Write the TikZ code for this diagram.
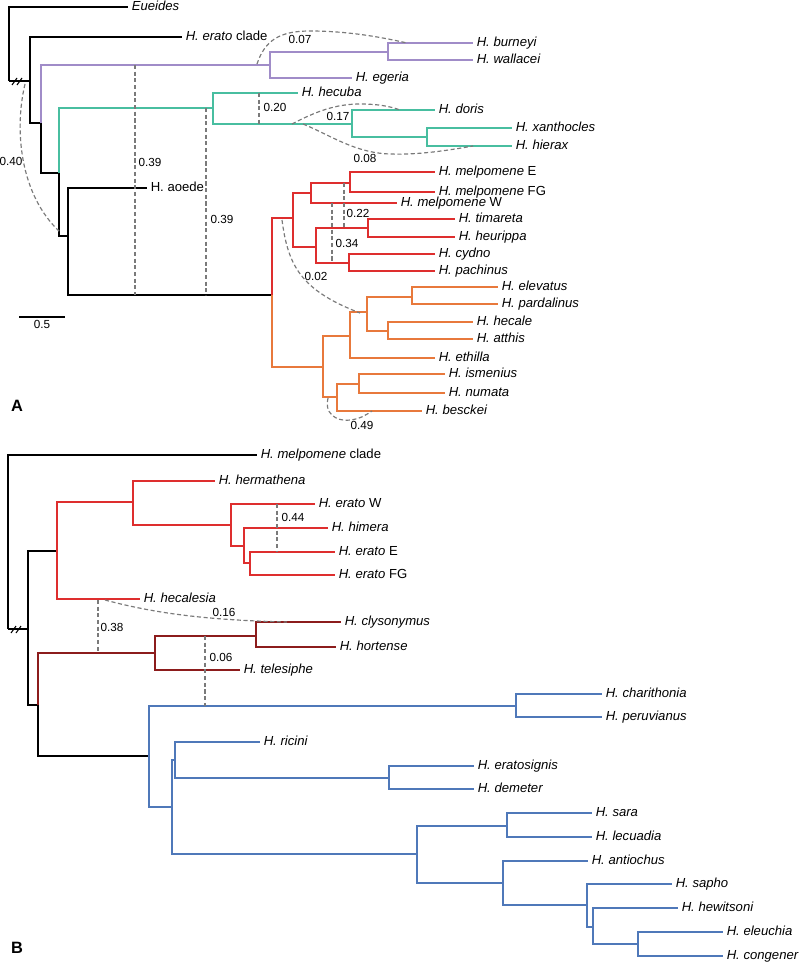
\documentclass[tikz,border=0pt]{standalone}
\usepackage{fontspec}
\setmainfont{Liberation Sans}
\usepackage{tikz}
\usetikzlibrary{positioning}
\usepackage{xcolor}
\definecolor{cladeP}{HTML}{A08CC8}
\definecolor{cladeT}{HTML}{48BEA0}
\definecolor{cladeR}{HTML}{DE2E2E}
\definecolor{cladeO}{HTML}{E8793C}
\definecolor{cladeD}{HTML}{8C1C1C}
\definecolor{cladeB}{HTML}{4F78B9}
\definecolor{flowgray}{HTML}{7A7A7A}

\begin{document}
\begin{tikzpicture}[x=0.03cm, y=-0.03cm,
  branch/.style={line width=1.9pt},
  leaf/.style={anchor=west, inner xsep=3pt, inner ysep=0pt, text height=0.6em, text depth=0pt,
    font=\fontsize{11.2}{13}\selectfont\itshape},
  flow/.style={draw=flowgray, line width=1pt, dash pattern=on 3.5pt off 2.2pt},
  val/.style={inner sep=0pt, font=\fontsize{10}{12}\selectfont},
  brk/.style={line width=0.9pt}]
\useasboundingbox (0,0) rectangle (800,964);

% ---------------- panel A: internal nodes
\coordinate (rootA) at (9,81);
\coordinate (nA1) at (30,81);
\coordinate (nA2) at (41,123);
\coordinate (nA3) at (59,173);
\coordinate (nA4) at (68,236);
\coordinate (nA5) at (272,295);
\coordinate (pA) at (270,65);
\coordinate (pA1) at (388,52);
\coordinate (tA) at (213,108);
\coordinate (tA1) at (352,124);
\coordinate (tA2) at (427,137);
\coordinate (rA) at (293,218);
\coordinate (rA1) at (311,193);
\coordinate (rA2) at (350,183);
\coordinate (rA3) at (316,247);
\coordinate (rA4) at (368,228);
\coordinate (rA5) at (349,263);
\coordinate (oA) at (323,367);
\coordinate (oA1) at (350,336);
\coordinate (oA2) at (367,312);
\coordinate (oA3) at (412,297);
\coordinate (oA4) at (337,397);
\coordinate (oA5) at (388,331);
\coordinate (oA6) at (359,384);

% panel A: tips
\node[leaf] (eueides) at (128,7) {Eueides};
\node[leaf] (eratoclade) at (182,37) {H. erato \upshape clade};
\node[leaf] (burneyi) at (473,43) {H. burneyi};
\node[leaf] (wallacei) at (473,60) {H. wallacei};
\node[leaf] (egeria) at (352,78) {H. egeria};
\node[leaf] (hecuba) at (298,93) {H. hecuba};
\node[leaf] (doris) at (435,110) {H. doris};
\node[leaf] (xanthocles) at (512,128) {H. xanthocles};
\node[leaf] (hierax) at (512,146) {H. hierax};
\node[leaf, font=\fontsize{11.2}{13}\selectfont] (aoede) at (147,188) {H. aoede};
\node[leaf] (melpE) at (435,172) {H. melpomene \upshape E};
\node[leaf] (melpFG) at (435,192) {H. melpomene \upshape FG};
\node[leaf] (melpW) at (397,203) {H. melpomene \upshape W};
\node[leaf] (timareta) at (455,219) {H. timareta};
\node[leaf] (heurippa) at (455,237) {H. heurippa};
\node[leaf] (cydno) at (435,254) {H. cydno};
\node[leaf] (pachinus) at (435,271) {H. pachinus};
\node[leaf] (elevatus) at (498,287) {H. elevatus};
\node[leaf] (pardalinus) at (498,304) {H. pardalinus};
\node[leaf] (hecale) at (473,322) {H. hecale};
\node[leaf] (atthis) at (473,339) {H. atthis};
\node[leaf] (ethilla) at (435,358) {H. ethilla};
\node[leaf] (ismenius) at (445,374) {H. ismenius};
\node[leaf] (numata) at (445,393) {H. numata};
\node[leaf] (besckei) at (422,411) {H. besckei};

% panel A: branches
\foreach \a/\b in {rootA/eueides, rootA/nA1, nA1/eratoclade, nA1/nA2, nA2/nA3, nA3/nA4, nA4/aoede, nA4/nA5}
  \draw[branch] (\a) |- (\b);
\foreach \a/\b in {nA2/pA, pA/pA1, pA/egeria, pA1/burneyi, pA1/wallacei}
  \draw[branch, cladeP] (\a) |- (\b);
\foreach \a/\b in {nA3/tA, tA/hecuba, tA/tA1, tA1/doris, tA1/tA2, tA2/xanthocles, tA2/hierax}
  \draw[branch, cladeT] (\a) |- (\b);
\foreach \a/\b in {nA5/rA, rA/rA1, rA/rA3, rA1/rA2, rA1/melpW, rA2/melpE, rA2/melpFG,
    rA3/rA4, rA3/rA5, rA4/timareta, rA4/heurippa, rA5/cydno, rA5/pachinus}
  \draw[branch, cladeR] (\a) |- (\b);
\foreach \a/\b in {nA5/oA, oA/oA1, oA/oA4, oA1/oA2, oA1/ethilla, oA2/oA3, oA2/oA5,
    oA3/elevatus, oA3/pardalinus, oA5/hecale, oA5/atthis, oA4/oA6, oA4/besckei,
    oA6/ismenius, oA6/numata}
  \draw[branch, cladeO] (\a) |- (\b);
\draw[brk] ([shift={(3,4)}]rootA) -- ++(5,-7);
\draw[brk] ([shift={(8,4)}]rootA) -- ++(5,-7);

% panel A: gene flow
\coordinate (gA1) at (25,84);
\coordinate (gA2) at (60,232);
\draw[flow] (gA1) .. controls (14,130) and (20,195) .. (gA2);
\node[val] (v040) at (11,161) {0.40};
\coordinate (gA3) at (135,65);
\coordinate (gA4) at (135,295);
\draw[flow] (gA3) -- (gA4);
\node[val] (v039a) at (150,162) {0.39};
\coordinate (gA5) at (206,108);
\coordinate (gA6) at (206,295);
\draw[flow] (gA5) -- (gA6);
\node[val] (v039b) at (222,219) {0.39};
\coordinate (gA7) at (259,93);
\coordinate (gA8) at (259,124);
\draw[flow] (gA7) -- (gA8);
\node[val] (v020) at (275,107) {0.20};
\coordinate (gA9) at (257,64);
\coordinate (gA10) at (407,43);
\draw[flow] (gA9) .. controls (265,40) and (280,31) .. (310,31) .. controls (350,31) and (385,38) .. (gA10);
\node[val] (v007) at (300,39) {0.07};
\coordinate (gA11) at (292,124);
\coordinate (gA12) at (400,110);
\draw[flow] (gA11) .. controls (315,112) and (335,104) .. (360,104) .. controls (380,104) and (392,107) .. (gA12);
\node[val] (v017) at (338,116) {0.17};
\coordinate (gA13) at (303,124);
\coordinate (gA14) at (473,146);
\draw[flow] (gA13) .. controls (330,135) and (355,153) .. (390,154) .. controls (420,155) and (450,150) .. (gA14);
\node[val] (v008) at (365,158) {0.08};
\coordinate (gA15) at (344,183);
\coordinate (gA16) at (344,228);
\draw[flow] (gA15) -- (gA16);
\node[val] (v022) at (358,213) {0.22};
\coordinate (gA17) at (332,203);
\coordinate (gA18) at (332,263);
\draw[flow] (gA17) -- (gA18);
\node[val] (v034) at (347,243) {0.34};
\coordinate (gA19) at (282,220);
\coordinate (gA20) at (360,313);
\draw[flow] (gA19) .. controls (288,265) and (300,290) .. (gA20);
\node[val] (v002) at (316,276) {0.02};
\coordinate (gA21) at (328,398);
\coordinate (gA22) at (372,411);
\draw[flow] (gA21) .. controls (324,412) and (335,422) .. (350,420) .. controls (360,419) and (366,415) .. (gA22);
\node[val] (v049) at (362,425) {0.49};

% scale bar and panel letter
\coordinate (sbL) at (19,317);
\coordinate (sbR) at (65,317);
\draw[line width=1.2pt] (sbL) -- (sbR);
\node[val] (sbval) at (42,324) {0.5};
\node[font=\fontsize{14}{16}\selectfont\bfseries, inner sep=0pt] (lblA) at (17,406) {A};

% ---------------- panel B: internal nodes
\coordinate (rootB) at (8,629);
\coordinate (nB1) at (28,629);
\coordinate (nB2) at (57,551);
\coordinate (nB3) at (38,705);
\coordinate (rB1) at (133,502);
\coordinate (rB2) at (231,525);
\coordinate (rB3) at (244,546);
\coordinate (rB4) at (250,563);
\coordinate (dB) at (155,653);
\coordinate (dB1) at (256,636);
\coordinate (bB) at (149,756);
\coordinate (bB1) at (516,706);
\coordinate (bB2) at (172,807);
\coordinate (bB3) at (175,760);
\coordinate (bB4) at (389,778);
\coordinate (bB5) at (417,854);
\coordinate (bB6) at (507,826);
\coordinate (bB7) at (503,883);
\coordinate (bB8) at (587,905);
\coordinate (bB9) at (593,927);
\coordinate (bB10) at (638,944);

% panel B: tips
\node[leaf] (melpclade) at (257,455) {H. melpomene \upshape clade};
\node[leaf] (hermathena) at (215,481) {H. hermathena};
\node[leaf] (eratoW) at (315,504) {H. erato \upshape W};
\node[leaf] (himera) at (328,528) {H. himera};
\node[leaf] (eratoE) at (335,552) {H. erato \upshape E};
\node[leaf] (eratoFG) at (335,575) {H. erato \upshape FG};
\node[leaf] (hecalesia) at (140,599) {H. hecalesia};
\node[leaf] (clysonymus) at (341,622) {H. clysonymus};
\node[leaf] (hortense) at (336,647) {H. hortense};
\node[leaf] (telesiphe) at (240,670) {H. telesiphe};
\node[leaf] (charithonia) at (602,694) {H. charithonia};
\node[leaf] (peruvianus) at (602,717) {H. peruvianus};
\node[leaf] (ricini) at (260,742) {H. ricini};
\node[leaf] (eratosignis) at (474,766) {H. eratosignis};
\node[leaf] (demeter) at (474,789) {H. demeter};
\node[leaf] (sara) at (592,813) {H. sara};
\node[leaf] (lecuadia) at (592,837) {H. lecuadia};
\node[leaf] (antiochus) at (588,861) {H. antiochus};
\node[leaf] (sapho) at (672,884) {H. sapho};
\node[leaf] (hewitsoni) at (678,908) {H. hewitsoni};
\node[leaf] (eleuchia) at (723,932) {H. eleuchia};
\node[leaf] (congener) at (723,956) {H. congener};

% panel B: branches
\foreach \a/\b in {rootB/melpclade, rootB/nB1, nB1/nB2, nB1/nB3, nB3/bB}
  \draw[branch] (\a) |- (\b);
\foreach \a/\b in {nB2/rB1, nB2/hecalesia, rB1/hermathena, rB1/rB2, rB2/eratoW, rB2/rB3,
    rB3/himera, rB3/rB4, rB4/eratoE, rB4/eratoFG}
  \draw[branch, cladeR] (\a) |- (\b);
\foreach \a/\b in {nB3/dB, dB/dB1, dB/telesiphe, dB1/clysonymus, dB1/hortense}
  \draw[branch, cladeD] (\a) |- (\b);
\foreach \a/\b in {bB/bB1, bB/bB2, bB1/charithonia, bB1/peruvianus, bB2/bB3, bB2/bB5,
    bB3/ricini, bB3/bB4, bB4/eratosignis, bB4/demeter, bB5/bB6, bB5/bB7, bB6/sara,
    bB6/lecuadia, bB7/antiochus, bB7/bB8, bB8/sapho, bB8/bB9, bB9/hewitsoni,
    bB9/bB10, bB10/eleuchia, bB10/congener}
  \draw[branch, cladeB] (\a) |- (\b);
\draw[brk] ([shift={(3,4)}]rootB) -- ++(5,-7);
\draw[brk] ([shift={(8,4)}]rootB) -- ++(5,-7);

% panel B: gene flow
\coordinate (gB1) at (277,504);
\coordinate (gB2) at (277,552);
\draw[flow] (gB1) -- (gB2);
\node[val] (v044) at (293,517) {0.44};
\coordinate (gB3) at (105,600);
\coordinate (gB4) at (287,622);
\draw[flow] (gB3) .. controls (150,612) and (200,620) .. (gB4);
\node[val] (v016) at (224,612) {0.16};
\coordinate (gB5) at (98,600);
\coordinate (gB6) at (98,652);
\draw[flow] (gB5) -- (gB6);
\node[val] (v038) at (112,627) {0.38};
\coordinate (gB7) at (205,636);
\coordinate (gB8) at (205,706);
\draw[flow] (gB7) -- (gB8);
\node[val] (v006) at (221,657) {0.06};

\node[font=\fontsize{14}{16}\selectfont\bfseries, inner sep=0pt] (lblB) at (17,948) {B};
\end{tikzpicture}
\end{document}
